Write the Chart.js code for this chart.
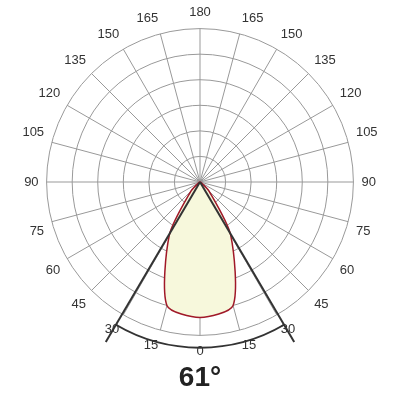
<!DOCTYPE html>
<html>
<head>
<script src="https://cdn.jsdelivr.net/npm/chart.js@4"></script>
<style>body{margin:0;background:#fff}#c{width:400px;height:400px}</style>
</head>
<body>
<canvas id="c" width="400" height="400"></canvas>
<script>
// angle labels, clockwise from top
let angles=["180","165","150","135","120","105","90","75","60","45","30","15","0","15","30","45","60","75","90","105","120","135","150","165"];
// intensity, same order
let intensity=[0,0,0,0,0,0,0,0,0.05,0.5,2.4,5.0,5.3,5.0,2.4,0.5,0.05,0,0,0,0,0,0,0];
let beamAngle=61;
let beamText="61°";

const beamPlugin={
id:"beam",
afterDatasetsDraw(chart){
let s=chart.scales.r, ctx=chart.ctx;
let cx=s.xCenter, cy=s.yCenter, R=s.drawingArea;
let half=beamAngle/2*Math.PI/180;
ctx.save();
ctx.strokeStyle="#333";
ctx.lineWidth=2;
[-half,half].forEach(a=>{
ctx.beginPath();
ctx.moveTo(cx,cy);
ctx.lineTo(cx+Math.sin(a)*R*1.21,cy+Math.cos(a)*R*1.21);
ctx.stroke();
});
ctx.beginPath();
ctx.arc(cx,cy,R*1.08,Math.PI/2-half,Math.PI/2+half);
ctx.stroke();
ctx.fillStyle="#222";
ctx.font="bold 28px 'Liberation Sans', Arial";
ctx.textAlign="center";
ctx.textBaseline="middle";
ctx.fillText(beamText,cx,cy+R*1.28);
ctx.restore();
}
};

new Chart(document.getElementById("c"),{
type:"radar",
data:{
labels:angles,
datasets:[{
data:intensity,
backgroundColor:"#f7f8dc",
borderColor:"#a01828",
borderWidth:1.5,
pointRadius:0,
tension:0.25,
fill:true
}]
},
options:{
responsive:false,
animation:false,
layout:{padding:{top:6,bottom:40,left:14,right:14}},
plugins:{legend:{display:false},tooltip:{enabled:false}},
scales:{r:{
min:0,max:6,
ticks:{display:false,stepSize:1},
grid:{color:"#999",lineWidth:1,circular:true},
angleLines:{color:"#999",lineWidth:1},
pointLabels:{color:"#333",font:{size:13,family:"'Liberation Sans', Arial"},padding:8}
}}
},
plugins:[beamPlugin]
});
</script>
</body>
</html>
